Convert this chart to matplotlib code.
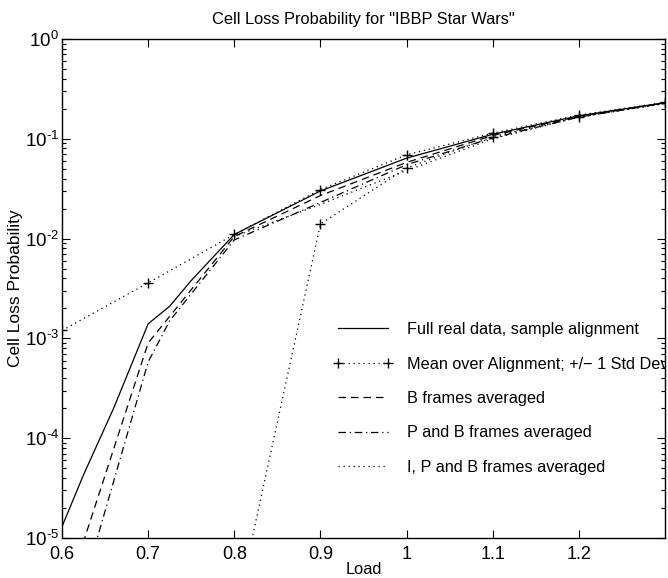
import math
import matplotlib
matplotlib.use("Agg")
import matplotlib.pyplot as plt
from matplotlib.ticker import LogLocator, FixedLocator, NullLocator, FuncFormatter, NullFormatter

plt.rcParams['font.family'] = ['Liberation Sans', 'DejaVu Sans']
plt.rcParams['mathtext.fontset'] = 'custom'
plt.rcParams['mathtext.rm'] = 'Liberation Sans'
plt.rcParams['mathtext.it'] = 'Liberation Sans'
plt.rcParams['mathtext.bf'] = 'Liberation Sans'

# ---- data ----
full_x = [0.6, 0.625, 0.66, 0.7, 0.725, 0.75, 0.8, 0.9, 1.0, 1.1, 1.2, 1.3]
full_y = [1.3e-5, 4.3e-5, 2.0e-4, 1.4e-3, 2.1e-3, 3.8e-3, 0.011, 0.030, 0.064, 0.111, 0.170, 0.230]

mean_x = [0.6, 0.7, 0.8, 0.9, 1.0, 1.1, 1.2, 1.3]
mean_y = [1.2e-3, 3.6e-3, 0.011, 0.031, 0.069, 0.114, 0.173, 0.232]

low_x = [0.8, 0.9, 1.0, 1.1, 1.2, 1.3]
low_y = [1.5e-6, 0.014, 0.051, 0.105, 0.165, 0.226]

bavg_x = [0.6, 0.7, 0.8, 0.9, 1.0, 1.1, 1.2, 1.3]
bavg_y = [2.0e-6, 9.0e-4, 0.0105, 0.027, 0.058, 0.108, 0.168, 0.229]

pbavg_x = [0.6, 0.7, 0.725, 0.8, 0.9, 1.0, 1.1, 1.2, 1.3]
pbavg_y = [6.0e-7, 5.8e-4, 1.5e-3, 0.0097, 0.023, 0.055, 0.102, 0.165, 0.228]

ipb_x = [0.8, 0.9, 1.0, 1.1, 1.2, 1.3]
ipb_y = [0.0105, 0.022, 0.048, 0.100, 0.165, 0.226]

xticks = [0.6, 0.7, 0.8, 0.9, 1.0, 1.1, 1.2]
xticklabels = ['0.6', '0.7', '0.8', '0.9', '1', '1.1', '1.2']

labels = ['Full real data, sample alignment',
          'Mean over Alignment; +/\u2212 1 Std Dev',
          'B frames averaged',
          'P and B frames averaged',
          'I, P and B frames averaged']

# ---- figure ----
fig = plt.figure(figsize=(6.68, 5.78), dpi=100)
ax = fig.add_axes([62/668, 1-538/578, (665-62)/668, (538-39)/578])

lw = 0.9
dot = (0, (1, 3))
h1, = ax.plot(full_x, full_y, color='black', lw=lw, ls='-')
h2, = ax.plot(mean_x, mean_y, color='black', lw=lw, ls=dot, marker='+', ms=7, mew=1.0)
ax.plot(low_x, low_y, color='black', lw=lw, ls=dot, marker='+', ms=7, mew=1.0)
h3, = ax.plot(bavg_x, bavg_y, color='black', lw=lw, ls=(0, (6, 4)))
h4, = ax.plot(pbavg_x, pbavg_y, color='black', lw=lw, ls=(0, (6, 3, 1, 3)))
h5, = ax.plot(ipb_x, ipb_y, color='black', lw=lw, ls=dot)

ax.set_yscale('log')
ax.set_xlim(0.6, 1.3)
ax.set_ylim(1e-5, 1)
ax.xaxis.set_major_locator(FixedLocator(xticks))
ax.set_xticklabels(xticklabels)
ax.xaxis.set_minor_locator(NullLocator())
ax.yaxis.set_major_locator(LogLocator(base=10, numticks=10))
ax.yaxis.set_minor_locator(LogLocator(base=10, subs=range(2, 10), numticks=10))


def pow_fmt(v, pos):
    e = int(round(math.log10(v)))
    return '$\\mathrm{10^{%s}}$' % str(e).replace('-', '\u2010')


ax.yaxis.set_major_formatter(FuncFormatter(pow_fmt))
ax.yaxis.set_minor_formatter(NullFormatter())

ax.tick_params(which='both', direction='in', top=True, right=True, width=0.8)
ax.tick_params(axis='x', labelsize=13, pad=6)
ax.tick_params(axis='y', labelsize=13.5, pad=2)
ax.tick_params(which='major', length=6)
ax.tick_params(which='minor', length=3)
for s in ax.spines.values():
    s.set_linewidth(1.0)

ax.set_title('Cell Loss Probability for "IBBP Star Wars"', fontsize=11.8, pad=11)
ax.set_xlabel('Load', fontsize=11.8)
ax.xaxis.set_label_coords(0.5, (538 - 562) / 499)
ax.set_ylabel('Cell Loss Probability', fontsize=12.5)
ax.yaxis.set_label_coords((23 - 62) / 603, 0.5)

leg = ax.legend([h1, h2, h3, h4, h5], labels, loc='upper left',
                bbox_to_anchor=((333 - 62) / 603, (538 - 322) / 499), frameon=False,
                fontsize=11.7, handlelength=3.7, handletextpad=0.85, labelspacing=1.2,
                borderaxespad=0, borderpad=0, numpoints=2)
for t in leg.get_texts():
    t.set_clip_box(ax.bbox)
    t.set_clip_on(True)

fig.savefig('out.png', dpi=100)
